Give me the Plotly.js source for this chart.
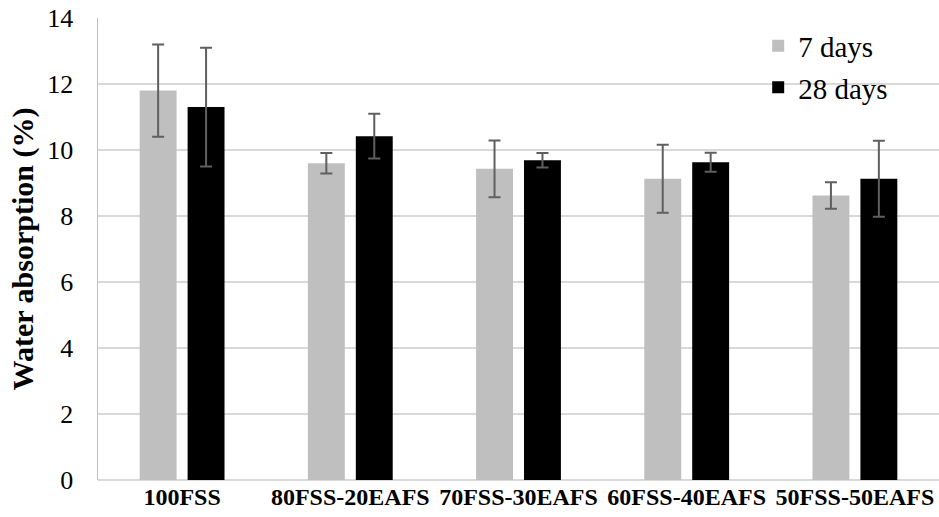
<!DOCTYPE html>
<html>
<head>
<meta charset="utf-8">
<script src="https://cdn.plot.ly/plotly-3.0.1.min.js"></script>
<style>html,body{margin:0;padding:0;background:#fff;}#chart{width:939px;height:517px;}</style>
</head>
<body>
<div id="chart"></div>
<script>
const categories = ["100FSS", "80FSS-20EAFS", "70FSS-30EAFS", "60FSS-40EAFS", "50FSS-50EAFS"];
const days7 = [11.8, 9.6, 9.43, 9.13, 8.62];
const days7Err = [1.4, 0.31, 0.86, 1.03, 0.4];
const days28 = [11.3, 10.42, 9.69, 9.63, 9.13];
const days28Err = [1.8, 0.68, 0.22, 0.29, 1.15];
const yTicks = [0, 2, 4, 6, 8, 10, 12, 14];

const SERIF = 'Liberation Serif';
const errStyle = {type: 'data', visible: true, color: '#5f5f5f', thickness: 2, width: 6};

const traces = [
  {type: 'bar', name: '7 days', x: categories, y: days7, legendgroup: 'a',
   marker: {color: '#bfbfbf'},
   error_y: Object.assign({array: days7Err}, errStyle)},
  {type: 'bar', name: '28 days', x: categories, y: days28, legendgroup: 'b',
   marker: {color: '#000000'},
   error_y: Object.assign({array: days28Err}, errStyle)}
];

const layout = {
  width: 939, height: 517,
  margin: {l: 98, r: 0, t: 18, b: 37},
  paper_bgcolor: '#fff', plot_bgcolor: '#fff',
  barmode: 'group', bargap: 0.43, bargroupgap: 0.23,
  font: {family: SERIF, color: '#000'},
  xaxis: {
    type: 'category', range: [-0.5, 4.5],
    tickfont: {size: 24, family: SERIF, weight: 'bold', color: '#000'},
    ticks: '', showline: false, showgrid: false, zeroline: false
  },
  yaxis: {
    range: [0, 14], tickvals: yTicks, ticktext: yTicks.map(String),
    tickfont: {size: 26, family: SERIF, color: '#000'}, ticks: '', ticklen: 0,
    ticklabelstandoff: 18,
    showgrid: true, gridcolor: '#d9d9d9', gridwidth: 2,
    showline: true, linecolor: '#bfbfbf', linewidth: 1.5,
    zeroline: true, zerolinecolor: '#d9d9d9', zerolinewidth: 2,
    title: {text: '<b>Water absorption (%)</b>', font: {size: 30, family: SERIF, color: '#000'}, standoff: 5}
  },
  legend: {x: 0.785, y: 0.995, xanchor: 'left', yanchor: 'top',
    font: {size: 29, family: SERIF, color: '#000'}, bgcolor: 'rgba(0,0,0,0)',
    traceorder: 'grouped', tracegroupgap: 1},
  showlegend: true
};

Plotly.newPlot('chart', traces, layout, {displayModeBar: false, staticPlot: true});
</script>
</body>
</html>
